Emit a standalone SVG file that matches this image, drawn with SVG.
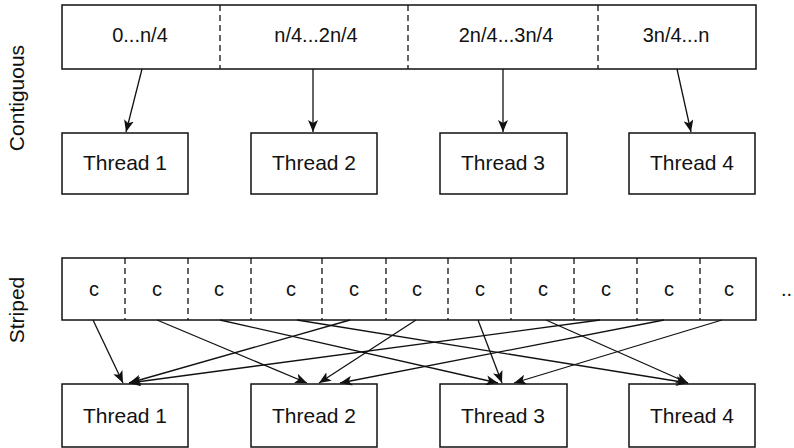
<svg xmlns="http://www.w3.org/2000/svg" width="794" height="448" viewBox="0 0 794 448">
<style>
  text { font-family: "Liberation Sans", Arial, sans-serif; fill: #111; }
  .lbl { font-size: 20px; text-anchor: middle; }
  .th { font-size: 21px; text-anchor: middle; }
  .side { font-size: 21px; text-anchor: middle; }
  .box { fill: #fff; stroke: #111; stroke-width: 1.5; }
  .div { stroke: #111; stroke-width: 1.3; stroke-dasharray: 6 4; fill: none; }
  .arr { stroke: #111; stroke-width: 1.3; fill: none; marker-end: url(#ah); }
</style>
<defs>
  <marker id="ah" markerUnits="userSpaceOnUse" markerWidth="12" markerHeight="10" viewBox="0 0 12 10" refX="12" refY="5" orient="auto">
    <path d="M0,0 L12,5 L0,10 L3,5 Z" fill="#111"/>
  </marker>
</defs>

<rect width="794" height="448" fill="#fff"/>

<text class="side" transform="translate(24,98) rotate(-90)">Contiguous</text>
<text class="side" transform="translate(24,310) rotate(-90)">Striped</text>

<g id="contiguous-array">
  <rect class="box" x="62" y="5" width="694" height="64"/>
  <line class="div" x1="220" y1="5" x2="220" y2="69"/>
  <line class="div" x1="408" y1="5" x2="408" y2="69"/>
  <line class="div" x1="598" y1="5" x2="598" y2="69"/>
  <text class="lbl" x="140" y="42">0...n/4</text>
  <text class="lbl" x="316" y="42">n/4...2n/4</text>
  <text class="lbl" x="506" y="42">2n/4...3n/4</text>
  <text class="lbl" x="676" y="42">3n/4...n</text>
</g>

<g id="c-thread1"><rect class="box" x="62" y="133" width="126" height="61"/><text class="th" x="125" y="169.5">Thread 1</text></g>
<g id="c-thread2"><rect class="box" x="251" y="133" width="126" height="61"/><text class="th" x="314" y="169.5">Thread 2</text></g>
<g id="c-thread3"><rect class="box" x="440" y="133" width="127" height="61"/><text class="th" x="503" y="169.5">Thread 3</text></g>
<g id="c-thread4"><rect class="box" x="629" y="133" width="126" height="61"/><text class="th" x="692" y="169.5">Thread 4</text></g>

<g id="striped-array">
  <rect class="box" x="62" y="258" width="694" height="62"/>
  <line class="div" x1="125" y1="258" x2="125" y2="320"/>
  <line class="div" x1="188" y1="258" x2="188" y2="320"/>
  <line class="div" x1="251" y1="258" x2="251" y2="320"/>
  <line class="div" x1="322" y1="258" x2="322" y2="320"/>
  <line class="div" x1="386" y1="258" x2="386" y2="320"/>
  <line class="div" x1="448" y1="258" x2="448" y2="320"/>
  <line class="div" x1="511" y1="258" x2="511" y2="320"/>
  <line class="div" x1="574" y1="258" x2="574" y2="320"/>
  <line class="div" x1="637" y1="258" x2="637" y2="320"/>
  <line class="div" x1="700" y1="258" x2="700" y2="320"/>
  <text class="lbl" x="94" y="296">c</text>
  <text class="lbl" x="157" y="296">c</text>
  <text class="lbl" x="219" y="296">c</text>
  <text class="lbl" x="291" y="296">c</text>
  <text class="lbl" x="354" y="296">c</text>
  <text class="lbl" x="417" y="296">c</text>
  <text class="lbl" x="480" y="296">c</text>
  <text class="lbl" x="543" y="296">c</text>
  <text class="lbl" x="606" y="296">c</text>
  <text class="lbl" x="669" y="296">c</text>
  <text class="lbl" x="729" y="296">c</text>
</g>
<text x="781" y="296" style="font-size:20px">..</text>

<g id="s-thread1"><rect class="box" x="62" y="384" width="126" height="63"/><text class="th" x="125" y="422.5">Thread 1</text></g>
<g id="s-thread2"><rect class="box" x="251" y="384" width="126" height="63"/><text class="th" x="314" y="422.5">Thread 2</text></g>
<g id="s-thread3"><rect class="box" x="440" y="384" width="127" height="63"/><text class="th" x="503" y="422.5">Thread 3</text></g>
<g id="s-thread4"><rect class="box" x="629" y="384" width="126" height="63"/><text class="th" x="692" y="422.5">Thread 4</text></g>

<g id="connectors">
  <line class="arr" x1="142" y1="69" x2="126" y2="132"/>
  <line class="arr" x1="313" y1="69" x2="313" y2="132"/>
  <line class="arr" x1="503" y1="69" x2="503" y2="132"/>
  <line class="arr" x1="677" y1="69" x2="691" y2="132"/>

  <line class="arr" x1="93" y1="320" x2="123" y2="383"/>
  <line class="arr" x1="157" y1="320" x2="307" y2="383"/>
  <line class="arr" x1="220" y1="320" x2="498" y2="383"/>
  <line class="arr" x1="297" y1="320" x2="688" y2="383"/>
  <line class="arr" x1="350" y1="320" x2="129" y2="383"/>
  <line class="arr" x1="416" y1="320" x2="319" y2="383"/>
  <line class="arr" x1="478" y1="320" x2="502" y2="383"/>
  <line class="arr" x1="546" y1="320" x2="688" y2="383"/>
  <line class="arr" x1="600" y1="320" x2="129" y2="383"/>
  <line class="arr" x1="664" y1="320" x2="340" y2="383"/>
  <line class="arr" x1="722" y1="320" x2="514" y2="383"/>
</g>
</svg>
